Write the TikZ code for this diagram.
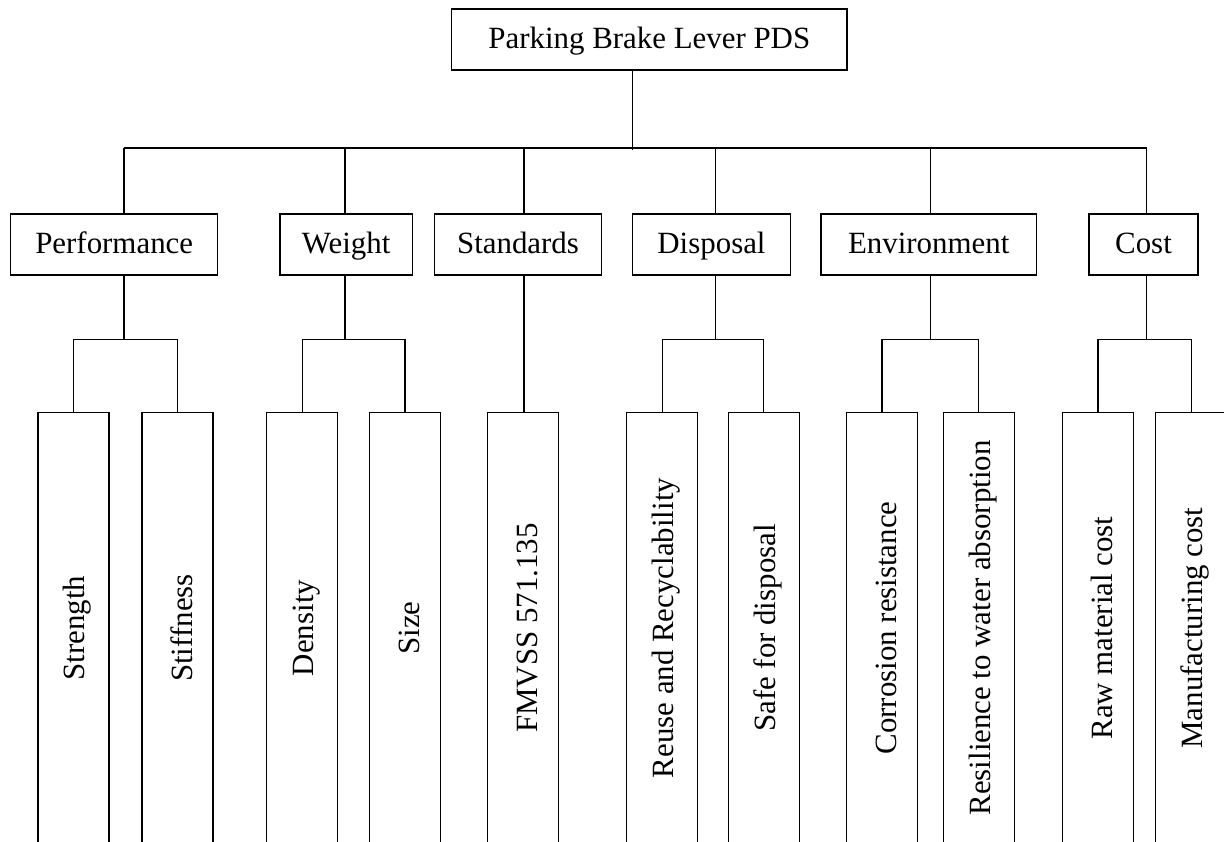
\documentclass[tikz,border=0pt]{standalone}
\usepackage{fontspec}
\setmainfont{Liberation Serif}
\usetikzlibrary{positioning}

\newcommand{\uptext}[1]{\rotatebox{90}{\rule{0pt}{30pt}#1}}

\begin{document}
\begin{tikzpicture}[x=1pt, y=-1pt, line width=1.4pt,
  every node/.style={font=\fontsize{30.9}{37}\selectfont},
  box node/.style={draw, minimum height=61pt, inner sep=0pt, text height=22pt, text depth=5pt},
  leaf node/.style={draw, minimum width=71pt, minimum height=430.6pt, inner sep=0pt}]

\useasboundingbox (0,0) rectangle (1224,841);
\clip (0,0) rectangle (1224,841);

\node[box node, minimum width=395.3pt] (pds) at (649.3,39.5) {Parking Brake Lever PDS};

\node[box node, minimum width=207pt] (perf) at (114.2,244.5) {Performance};
\node[box node, minimum width=132.3pt] (weight) at (346.2,244.5) {Weight};
\node[box node, minimum width=167.4pt] (stand) at (518,244.5) {Standards};
\node[box node, minimum width=158.4pt] (disp) at (711.5,244.5) {Disposal};
\node[box node, minimum width=215.3pt] (env) at (928.7,244.5) {Environment};
\node[box node, minimum width=109pt] (cost) at (1143.5,244.5) {Cost};

\node[leaf node] (strength) at (73.3,628) {\uptext{Strength}};
\node[leaf node] (stiff) at (177.3,628) {\uptext{Stiffness}};
\node[leaf node] (density) at (302.2,628) {\uptext{Density}};
\node[leaf node] (size) at (405,628) {\uptext{Size}};
\node[leaf node] (fmvss) at (523,628) {\uptext{FMVSS 571.135}};
\node[leaf node] (reuse) at (662.2,628) {\uptext{Reuse and Recyclability}};
\node[leaf node] (safe) at (763.7,628) {\uptext{Safe for disposal}};
\node[leaf node] (corr) at (881.8,628) {\uptext{Corrosion resistance}};
\node[leaf node] (resil) at (978.7,628) {\uptext{Resilience to water absorption}};
\node[leaf node] (raw) at (1097.8,628) {\uptext{Raw material cost}};
\node[leaf node] (manuf) at (1191.2,628) {\uptext{Manufacturing cost}};

\coordinate (topbus) at (632.3,150);
\coordinate (perfbus) at (124,148);
\coordinate (weightbus) at (345,148);
\coordinate (standbus) at (524,148);
\coordinate (dispbus) at (715.7,148);
\coordinate (envbus) at (930.7,148);
\coordinate (costbus) at (1146.7,148);

\draw (pds.south -| topbus) -- (topbus);
\draw (perfbus) -- (costbus);
\foreach \n in {perf, weight, stand, disp, env, cost}
  \draw (\n bus) -- (\n.north -| \n bus);

\foreach \n/\a/\b in {perf/strength/stiff, weight/density/size, disp/reuse/safe, env/corr/resil, cost/raw/manuf}
  \draw (\n bus |- \n.south) -- ++(0,64) -| (\a.north) (\n bus |- \n.south) ++(0,64) -| (\b.north);
\draw (standbus |- stand.south) -- (standbus |- fmvss.north);

\end{tikzpicture}
\end{document}
